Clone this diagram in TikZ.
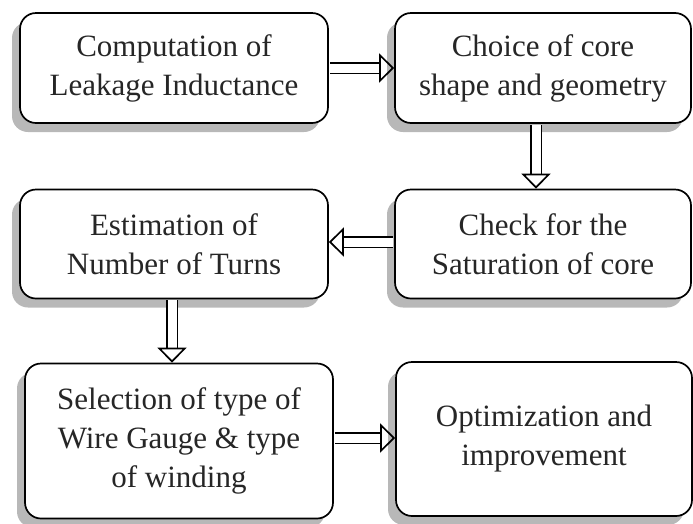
\documentclass[tikz,border=0pt]{standalone}
\usepackage{fontspec}
\setmainfont{Liberation Serif}
\usetikzlibrary{
  positioning,
  calc,
  arrows.meta,
  shadows
}

\tikzset{
  stepbox/.style={draw, line width=1.7pt, rounded corners=16pt, fill=white,
    align=center, inner sep=0pt, text=black!85,
    font=\fontsize{31}{39}\selectfont,
    drop shadow={shadow xshift=-8pt, shadow yshift=-9pt, fill=black!28, opacity=1}},
  flowarrow/.style={line width=1.7pt, double distance=9pt, shorten <=1pt,
    -{Triangle[open, length=15pt, width=29pt]}}
}

\begin{document}
\begin{tikzpicture}[x=1pt, y=-1pt]
      \useasboundingbox (0,0) rectangle (693,523);

      % Top row
      \node[stepbox, minimum width=308pt, minimum height=110pt] (leakage) at (174,68)
        {Computation of\\Leakage Inductance};
      \node[stepbox, minimum width=296pt, minimum height=110pt] (core) at (543,68)
        {Choice of core\\shape and geometry};

      % Middle row
      \node[stepbox, minimum width=296pt, minimum height=109pt] (saturation) at (543,244)
        {Check for the\\Saturation of core};
      \node[stepbox, minimum width=308pt, minimum height=109pt] (turns) at (174,244)
        {Estimation of\\Number of Turns};

      % Bottom row
      \node[stepbox, minimum width=308pt, minimum height=155pt] (gauge) at (179,441)
        {Selection of type of\\Wire Gauge \& type\\of winding};
      \node[stepbox, minimum width=296pt, minimum height=154pt] (optim) at (544,439)
        {Optimization and\\improvement};

      % Hollow arrows
      \draw[flowarrow] (leakage.east) -- (core.west);
      \draw[flowarrow] ([xshift=-7pt]core.south) -- ([xshift=-7pt]saturation.north);
      \draw[flowarrow] ([yshift=2pt]saturation.west) -- ([yshift=2pt]turns.east);
      \draw[flowarrow] ([xshift=-2pt]turns.south) -- ([xshift=-7pt]gauge.north);
      \draw[flowarrow] ([yshift=3pt]gauge.east) -- ([yshift=1pt]optim.west);
\end{tikzpicture}
\end{document}
